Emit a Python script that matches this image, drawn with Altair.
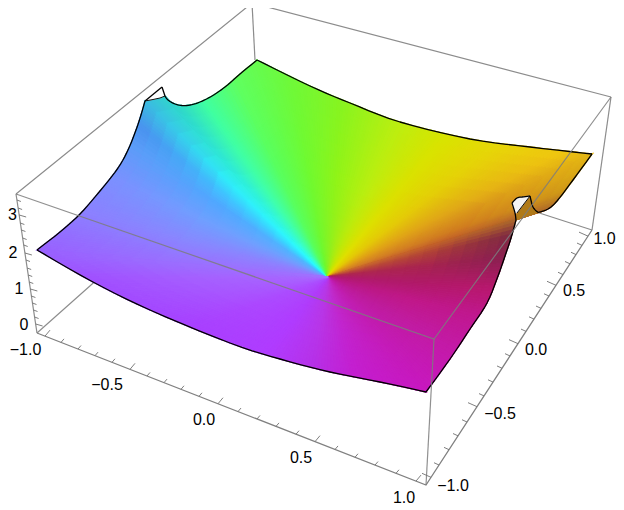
import math
import altair as alt
import pandas as pd

# ---- geometry (page pixels) ----
CENTRE = (328, 277)
LEFT_EDGE = [(37,250),(60,232),(80,214),(100,191),(118,168),(128,150),(136,130),(141,115),(145,101)]
NOTCH_L_LOW = [(145,101),(153,99.5),(160,98),(165,96)]
NOTCH_L_TOP = [(145,101),(162,87)]
NOTCH_L_SIDE = [(162,87),(165,96)]
BACK_LEFT = [(165,96),(168,100),(175,104),(182,105.5),(190,105),(200,102),(212,96),(225,87),(240,74),(257,60)]
BACK_RIGHT = [(257,60),(310,86),(350,103),(400,122),(470,139),(530,147),(592,154)]
RIGHT_EDGE = [(592,154),(573,180),(557,201),(548,209),(538,212.5)]
FOLD_LOW = [(538,212.5),(516,220)]
FRONT_RIGHT = [(516,220),(511,238),(505,256),(498,276),(487,303),(470,329),(450,359),(426,392)]
FRONT_LEFT = [(426,392),(380,382),(330,372),(280,359),(230,343),(150,310),(93,282),(37,250)]
FOLD_SIDE = [(538,212.5),(533,207),(530,196)]
NOTCH_R_TOP = [(530,196),(522,197),(517,198),(512,203)]
NOTCH_R_SIDE = [(512,203),(515,213),(516,220)]
NOTCH_R_LOW = [(517,213),(530,196)]

# hue table: screen angle -> colour near the centre, half way, at the edge
ANGLES = [180,165,155,146,141,136,131,125,115,100,85,65,50,38,28,20,13,6,-4,-15,-30,-50,-75,-100,-130,-160,-180]
NEAR = ["a868ff","9080ff","70a0ff","50b8ff","38dcff","30f8ff","38ffe0","40ffb0","58ff60","70f830","90f020","c0e808","e0e000","e4c808","e0a018","d48028","c05038","b02850","b01c6c","b81a80","bc1c98","c020b0","c02cc8","b838e4","b03ef8","ac50ff","a868ff"]
MID = ["a560ff","8888ff","6fa0ff","50a8ff","40c4ff","30ecfa","30f0d8","40ffa8","58ff60","70fa30","90f418","bcee10","dce000","e4cc08","e0a818","d07c20","b04038","a82450","b01a68","c01888","c01ca0","c41cb8","c224d0","b836e8","b03cff","ac48ff","a560ff"]
FAR = ["a050ff","8c80ff","7c90ff","5c9cf8","4a90ee","3cb8e0","30d8c8","40ffa0","60ff60","70f838","88f420","bcee10","d8e400","e6d808","f0c810","d09a18","7e2a42","8a2050","b8186e","c01890","c41aa8","c818c0","c41ed0","b630e8","b03cff","a840ff","a050ff"]

BOX_BACK = [[(16,194),(252,3),(611,97)],[(252,3),(255,60)],[(611,97),(592,230)],[(16,194),(37,333)],
            [(37,333),(100,277)],[(592,230),(530,210)]]
BOX_FRONT = [[(16,194),(434,339),(611,97)],[(434,339),(426,485)]]
AXES = [[(37,333),(426,485),(592,230)]]

X_TICKS = [45,61,78,95,112,130,147,164,181,199,218,238,257,276,296,315,335,355,375,396,416]
Y_TICKS = [431,439,449,458,467,477,484,493,502,510,518,526,534,541,549,556,563,570,576,582,588]
Z_TICKS = [324,317,310,303,296,289,282,275,268,260,253,245,238,230,223,215,208,200]

LABELS = [("\u22121.0",25.5,350),("\u22120.5",107,385),("0.0",204,420),("0.5",301,458),("1.0",404,498),
          ("\u22121.0",453,486),("\u22120.5",500,414),("0.0",536,350),("0.5",574,291),("1.0",604.5,239),
          ("0",24,325),("1",19,289),("2",13,253),("3",12.5,215)]

RINGS = [0,.06,.12,.2,.28,.36,.44,.52,.6,.68,.75,.82,.88,.94,1]
W, H = 608, 498
xs = alt.Scale(domain=[8, 8+W], range=[0, W], nice=False, zero=False)
ys = alt.Scale(domain=[8, 8+H], range=[0, H], nice=False, zero=False)

def smooth(points, steps=5):
    if len(points) < 3:
        return list(points)
    pts = [points[0]] + list(points) + [points[-1]]
    out = []
    for i in range(1, len(pts)-2):
        p0, p1, p2, p3 = pts[i-1], pts[i], pts[i+1], pts[i+2]
        for k in range(steps):
            t = k/steps
            out.append(tuple(.5*(2*p1[j]+(p2[j]-p0[j])*t+(2*p0[j]-5*p1[j]+4*p2[j]-p3[j])*t*t
                                 +(3*p1[j]-p0[j]-3*p2[j]+p3[j])*t*t*t) for j in (0, 1)))
    out.append(points[-1])
    return out

def rgb(h): return [int(h[i:i+2], 16) for i in (0, 2, 4)]
def mix(a, b, t): return [a[i]+(b[i]-a[i])*t for i in range(3)]

def colour(th, rho):
    th = max(-180, min(180, th))
    for i in range(len(ANGLES)-1):
        if ANGLES[i] >= th >= ANGLES[i+1]:
            t = (ANGLES[i]-th)/(ANGLES[i]-ANGLES[i+1])
            break
    n = mix(rgb(NEAR[i]), rgb(NEAR[i+1]), t)
    m = mix(rgb(MID[i]), rgb(MID[i+1]), t)
    f = mix(rgb(FAR[i]), rgb(FAR[i+1]), t)
    if rho < .55:
        c = mix(n, m, max(0, rho-.1)/.45)
    else:
        c = mix(m, f, (rho-.55)/.45)
    return "#%02x%02x%02x" % tuple(int(round(v)) for v in c)

# boundary of the fan
loop = []
for piece in [LEFT_EDGE, NOTCH_L_LOW, BACK_LEFT, BACK_RIGHT, RIGHT_EDGE, FOLD_LOW, FRONT_RIGHT, FRONT_LEFT]:
    loop += smooth(piece)[:-1]
loop.append(loop[0])

rays = []
for a, b in zip(loop, loop[1:]):
    n = max(1, math.ceil(math.hypot(b[0]-a[0], b[1]-a[1])/4.5))
    for k in range(n):
        rays.append((a[0]+(b[0]-a[0])*k/n, a[1]+(b[1]-a[1])*k/n))
rays.append(rays[0])

cx, cy = CENTRE
rows = []
fid = 0
for p, q in zip(rays, rays[1:]):
    for r0, r1 in zip(RINGS, RINGS[1:]):
        pts = [(cx+(p[0]-cx)*r0, cy+(p[1]-cy)*r0), (cx+(p[0]-cx)*r1, cy+(p[1]-cy)*r1),
               (cx+(q[0]-cx)*r1, cy+(q[1]-cy)*r1), (cx+(q[0]-cx)*r0, cy+(q[1]-cy)*r0)]
        mx, my = (p[0]+q[0])/2-cx, (p[1]+q[1])/2-cy
        c = colour(math.degrees(math.atan2(-my, mx)), (r0+r1)/2)
        for o, (x, y) in enumerate(pts + pts[:1]):
            rows.append(dict(x=round(x, 2), y=round(y, 2), g=fid, o=o, c=c))
        fid += 1
surface = pd.DataFrame(rows)

def paths(polys):
    out = []
    for g, poly in enumerate(polys):
        for o, (x, y) in enumerate(poly):
            out.append(dict(x=round(x, 2), y=round(y, 2), g=g, o=o))
    return pd.DataFrame(out)

def enc(ch):
    return ch.encode(x=alt.X("x:Q", scale=xs, axis=None), y=alt.Y("y:Q", scale=ys, axis=None),
                     detail="g:N", order="o:Q")

def line(polys, **kw):
    return enc(alt.Chart(paths(polys)).mark_line(**kw))

def poly(points, colour_):
    return enc(alt.Chart(paths([points + points[:1]])).mark_line(
        filled=True, fill=colour_, stroke=colour_, strokeWidth=0.5))

def on(x, a, b): return a[1]+(b[1]-a[1])*(x-a[0])/(b[0]-a[0])
ticks = []
for i, x in enumerate(X_TICKS):
    y = on(x, (37,333), (426,485))
    d = (5, -6) if i % 5 == 0 else (3, -3.5)
    ticks.append([(x, y), (x+d[0], y+d[1])])
for i, x in enumerate(Y_TICKS):
    y = on(x, (426,485), (592,230))
    d = (-9, -4) if i % 5 == 0 else (-5, -2.3)
    ticks.append([(x, y), (x+d[0], y+d[1])])
for i, y in enumerate(Z_TICKS):
    x = 37+(16-37)*(y-333)/(194-333)
    d = (7, 2) if i % 5 == 0 else (4, 1.5)
    ticks.append([(x, y), (x+d[0], y+d[1])])

fan = alt.Chart(surface).mark_line(filled=True, strokeWidth=1.3).encode(
    x=alt.X("x:Q", scale=xs, axis=None), y=alt.Y("y:Q", scale=ys, axis=None),
    detail="g:N", order="o:Q",
    fill=alt.Fill("c:N", scale=None, legend=None),
    stroke=alt.Stroke("c:N", scale=None, legend=None))

labels = alt.Chart(pd.DataFrame(LABELS, columns=["t", "x", "y"])).mark_text(
    font="Liberation Sans", fontSize=16, color="#000000", baseline="middle", align="center").encode(
    x=alt.X("x:Q", scale=xs, axis=None), y=alt.Y("y:Q", scale=ys, axis=None), text="t:N")

outline = [smooth(p) for p in [LEFT_EDGE, NOTCH_L_TOP, NOTCH_L_SIDE, BACK_LEFT, BACK_RIGHT, RIGHT_EDGE,
                               FOLD_SIDE, NOTCH_R_TOP, NOTCH_R_SIDE, FRONT_RIGHT, FRONT_LEFT]]
hole_l = NOTCH_L_TOP + NOTCH_L_SIDE[1:] + NOTCH_L_LOW[::-1][:-1]
hole_r = NOTCH_R_LOW + NOTCH_R_TOP[1:] + [(515,213)]
fold = FOLD_SIDE[::-1] + [(538,212.5),(516,220),(517,213)]

GRAY = "#8c8c8c"
chart = alt.layer(
    line(BOX_BACK, color=GRAY, strokeWidth=1.2),
    fan,
    poly(fold, "#b07a18"),
    poly(hole_l, "#ffffff"),
    poly(hole_r, "#f4f4f4"),
    line([NOTCH_L_LOW, NOTCH_R_LOW], color="#101010", strokeWidth=1),
    line(outline, color="#000000", strokeWidth=1.3, strokeJoin="round"),
    line(BOX_FRONT, color="#7c7c7c", strokeWidth=1.2, opacity=.85),
    line(AXES, color="#808080", strokeWidth=1.3),
    line(ticks, color="#707070", strokeWidth=0.9),
    labels,
).properties(width=W, height=H, padding=0, autosize=alt.AutoSizeParams(type="none")
).configure_view(stroke=None)

chart.save("out.html", embed_options={"renderer": "svg", "actions": False})
